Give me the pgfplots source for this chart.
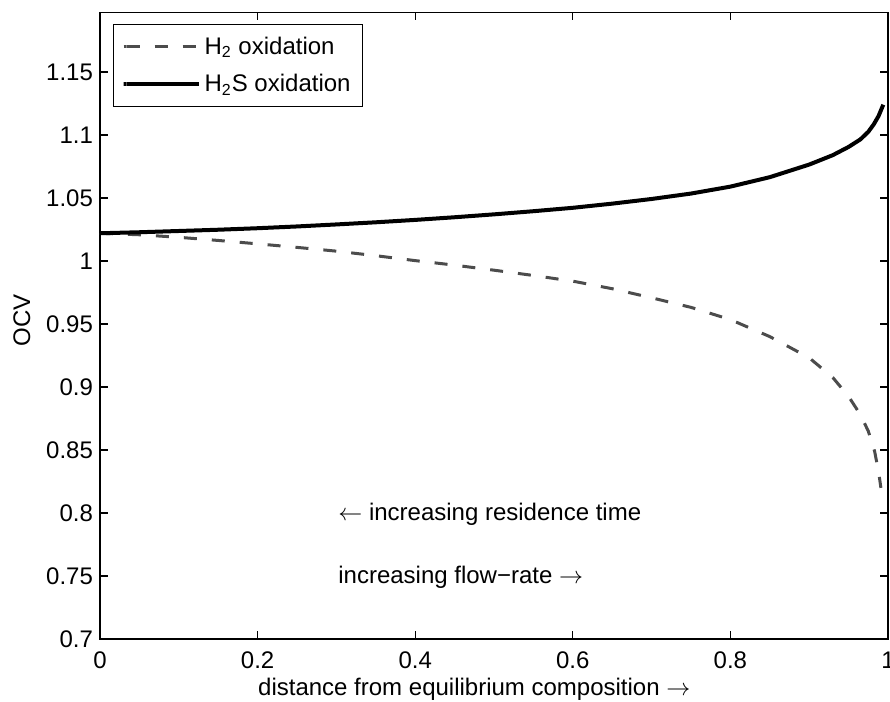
\documentclass[border=0pt]{standalone}
\usepackage{fontspec}
\setmainfont{Liberation Sans}
\usepackage{pgfplots}
\pgfplotsset{compat=1.18}
\begin{document}
\begin{tikzpicture}[font=\fontsize{12}{14.4}\selectfont]
\begin{axis}[
  scale only axis,
  width=394pt, height=313.2pt,
  xmin=0, xmax=1, ymin=0.7, ymax=1.197,
  xtick={0,0.2,0.4,0.6,0.8,1},
  ytick={0.7,0.75,0.8,0.85,0.9,0.95,1,1.05,1.1,1.15},
  /pgf/number format/assume math mode=true,
  tick align=inside,
  major tick length=3.8pt,
  minor tick num=0,
  axis line style={line width=0.6pt},
  every tick/.style={black, line width=0.6pt},
  xticklabel style={yshift=-3pt},
  xlabel={distance from equilibrium composition $\rightarrow$},
  xlabel style={at={(axis description cs:0.475,-0.0894)}, anchor=base},
  ylabel={OCV},
  ylabel style={at={(axis description cs:-0.099,0.509)}, anchor=center},
  legend cell align=left,
  legend image code/.code={\path (0pt,0pt) rectangle (1.5pt,0pt); \draw[#1] (1.5pt,0pt) -- (37.5pt,0pt);},
  legend style={at={(axis description cs:0,1)}, anchor=north west,
    xshift=6.5pt, yshift=-5.7pt, draw=black, line width=0.6pt,
    fill=white, inner xsep=4pt, inner ysep=4pt, row sep=4.5pt,
    nodes={inner sep=2pt}},
]
\addplot[black!70, line width=1.5pt, dash pattern=on 6.5pt off 7.5pt] coordinates {
(0,1.022) (0.05,1.0208) (0.1,1.0188) (0.15,1.0163) (0.2,1.0136) (0.25,1.0108)
(0.3,1.0078) (0.35,1.0042) (0.4,1.0003) (0.45,0.9967) (0.5,0.9927) (0.55,0.9885)
(0.6,0.9840) (0.65,0.9780) (0.7,0.9708) (0.75,0.9632) (0.8,0.9535) (0.85,0.9400)
(0.9,0.9232) (0.93,0.9075) (0.95,0.8925) (0.965,0.8780) (0.975,0.8650)
(0.983,0.8490) (0.988,0.8330) (0.991,0.8200)
};
\addlegendentry{H\textsubscript{2} oxidation}
\addplot[black, line width=2pt] coordinates {
(0,1.022) (0.05,1.0228) (0.1,1.0238) (0.15,1.0248) (0.2,1.026) (0.25,1.0274)
(0.3,1.029) (0.35,1.0307) (0.4,1.0326) (0.45,1.0347) (0.5,1.0370) (0.55,1.0395)
(0.6,1.0422) (0.65,1.0455) (0.7,1.0492) (0.75,1.0535) (0.8,1.0590) (0.85,1.0665)
(0.9,1.0765) (0.93,1.0840) (0.95,1.0905) (0.965,1.0965) (0.975,1.1025)
(0.982,1.1085) (0.988,1.1150) (0.994,1.1240)
};
\addlegendentry{H\textsubscript{2}S oxidation}
\node[anchor=base west, inner sep=0pt] at (axis cs:0.302,0.7944) {$\leftarrow$ increasing residence time};
\node[anchor=base west, inner sep=0pt] at (axis cs:0.302,0.7444) {increasing flow−rate $\rightarrow$};
\coordinate (sw) at (rel axis cs:0,0);
\coordinate (ne) at (rel axis cs:1,1);
\end{axis}
\pgfresetboundingbox
\path[use as bounding box] ([xshift=-50pt,yshift=-31pt]sw) rectangle ([xshift=1pt,yshift=6.35pt]ne);
\end{tikzpicture}
\end{document}
